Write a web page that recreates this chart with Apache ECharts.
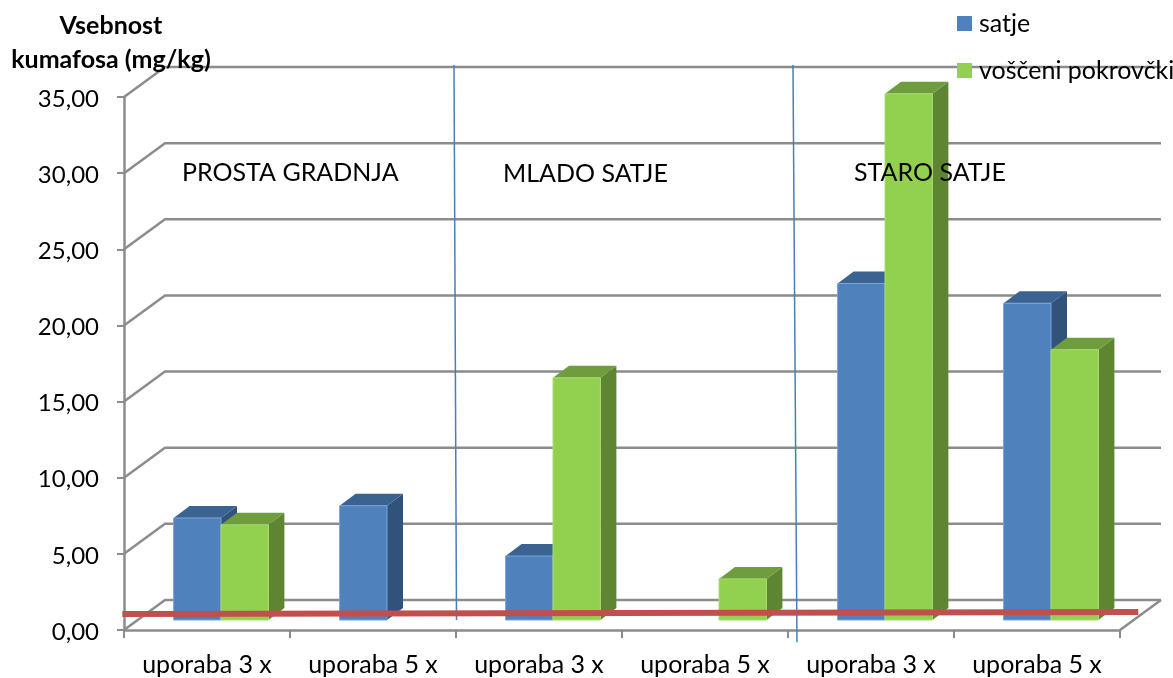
<!DOCTYPE html>
<html>
<head>
<meta charset="utf-8">
<title>Vsebnost kumafosa</title>
<style>
html, body { margin: 0; padding: 0; background: #fff; }
#main { width: 1173px; height: 678px; }
</style>
<script src="https://cdn.jsdelivr.net/npm/echarts@6/dist/echarts.min.js"></script>
</head>
<body>
<div id="main"></div>
<script>
var categories = ['uporaba 3 x', 'uporaba 5 x', 'uporaba 3 x', 'uporaba 5 x', 'uporaba 3 x', 'uporaba 5 x'];
var satje = [6.7, 7.5, 4.2, null, 22.1, 20.8];
var voskPokrovcki = [6.25, null, 15.9, 2.7, 34.55, 17.75];
var yTicks = [0, 5, 10, 15, 20, 25, 30, 35];
// rocno narisane crte v enotah osi: x = polozaj v skupinah, y = vrednost
var limitLine = [[-0.01, 1.05], [6.11, 1.18]];
var separatorOne = [[1.988, 37.1], [2.003, 0.65]];
var separatorTwo = [[4.03, 37.1], [4.054, -0.8]];

var font = 'Lato';
var grey = '#8c8c8c';
var wallDx = 41, wallDy = -30;
var barDx = 14, barDy = -10;
var topDx = 16, topDy = -12;

var myChart = echarts.init(document.getElementById('main'), null, { renderer: 'canvas' });

function pairData(values) {
    return values.map(function (v, i) { return [i, v]; });
}

function poly(points, fill, edge) {
    return { type: 'polygon', shape: { points: points }, style: { fill: fill, stroke: edge || null, lineWidth: 1 } };
}

function barItem(slot, face, top, side, edge) {
    return function (params, api) {
        var v = api.value(1);
        if (v === null || isNaN(v)) {
            return null;
        }
        var center = api.coord([api.value(0), 0]);
        var head = api.coord([api.value(0), v]);
        var band = api.size([1, 0])[0];
        var w = band * 0.2855;
        var x0 = center[0] + barDx + slot * w;
        var x1 = x0 + w;
        var y0 = center[1] + barDy;
        var y1 = head[1] + barDy;
        return {
            type: 'group',
            children: [
                poly([[x1, y0], [x1 + topDx, y0 + topDy], [x1 + topDx, y1 + topDy], [x1, y1]], side),
                poly([[x0, y1], [x1, y1], [x1 + topDx, y1 + topDy], [x0 + topDx, y1 + topDy]], top),
                poly([[x0, y0], [x1, y0], [x1, y1], [x0, y1]], face, edge)
            ]
        };
    };
}

function wallItem(params, api) {
    var y = api.coord([0, api.value(0)])[1];
    var left = params.coordSys.x;
    var right = left + params.coordSys.width + wallDx;
    return {
        type: 'polyline',
        shape: { points: [[left, y], [left + wallDx, y + wallDy], [right, y + wallDy]] },
        style: { fill: null, stroke: grey, lineWidth: 2.5 }
    };
}

function floorItem(params, api) {
    var y = api.coord([0, 0])[1];
    var x = params.coordSys.x + params.coordSys.width;
    return {
        type: 'line',
        shape: { x1: x, y1: y, x2: x + wallDx, y2: y + wallDy },
        style: { stroke: grey, lineWidth: 2.5 }
    };
}

function segmentItem(points, color, width) {
    return function (params, api) {
        var a = api.coord(points[0]);
        var b = api.coord(points[1]);
        return {
            type: 'line',
            shape: { x1: a[0], y1: a[1], x2: b[0], y2: b[1] },
            style: { stroke: color, lineWidth: width }
        };
    };
}

function overlaySeries(name, points, color, width, z) {
    return {
        name: name,
        type: 'custom',
        xAxisIndex: 1,
        yAxisIndex: 0,
        clip: false,
        silent: true,
        z: z,
        data: [points[0]],
        encode: { x: 0, y: 1 },
        renderItem: segmentItem(points, color, width)
    };
}

var option = {
    animation: false,
    backgroundColor: '#fff',
    textStyle: { fontFamily: font },
    title: {
        text: 'Vsebnost\nkumafosa (mg/kg)',
        left: 106,
        top: 4,
        textAlign: 'center',
        textStyle: { fontFamily: font, fontSize: 25, fontWeight: 'bold', color: '#000', lineHeight: 34 }
    },
    legend: {
        orient: 'vertical',
        left: 952,
        top: 6,
        z: 10,
        itemWidth: 15,
        itemHeight: 15,
        itemGap: 22,
        icon: 'rect',
        data: ['satje', 'voščeni pokrovčki'],
        textStyle: { fontFamily: font, fontSize: 25, color: '#000', padding: [0, 0, 0, 2] }
    },
    grid: { left: 124, right: 53, top: 97, bottom: 48 },
    xAxis: [
        {
            type: 'category',
            data: categories,
            boundaryGap: true,
            axisLine: { lineStyle: { color: grey, width: 2.5 } },
            axisTick: { show: true, alignWithLabel: false, interval: 0, length: 8, lineStyle: { color: grey, width: 2 } },
            axisLabel: { interval: 0, margin: 22, fontFamily: font, fontSize: 25, color: '#000' }
        },
        { type: 'value', min: 0, max: 6, show: false }
    ],
    yAxis: {
        type: 'value',
        min: 0,
        max: 35,
        interval: 5,
        axisLine: { show: true, lineStyle: { color: grey, width: 2.5 } },
        axisTick: { show: true, length: 7, lineStyle: { color: grey, width: 2 } },
        splitLine: { show: false },
        axisLabel: {
            margin: 25,
            color: '#000',
            rich: { n: { fontFamily: font, fontSize: 24, color: '#000', padding: [4, 0, 0, 0] } },
            formatter: function (v) { return '{n|' + v.toFixed(2).replace('.', ',') + '}'; }
        }
    },
    graphic: [
        { type: 'text', left: 182, top: 160, z: 20, style: { text: 'PROSTA GRADNJA', fontFamily: font, fontSize: 25, fill: '#000' } },
        { type: 'text', left: 503, top: 161, z: 20, style: { text: 'MLADO SATJE', fontFamily: font, fontSize: 25, fill: '#000' } },
        { type: 'text', left: 854, top: 160, z: 20, style: { text: 'STARO SATJE', fontFamily: font, fontSize: 25, fill: '#000' } }
    ],
    series: [
        {
            name: 'stene',
            type: 'custom',
            clip: false,
            silent: true,
            z: 1,
            data: yTicks,
            encode: { y: 0 },
            renderItem: wallItem
        },
        {
            name: 'tla',
            type: 'custom',
            clip: false,
            silent: true,
            z: 1,
            data: [0],
            encode: { y: 0 },
            renderItem: floorItem
        },
        {
            name: 'satje',
            type: 'custom',
            clip: false,
            z: 3,
            itemStyle: { color: '#4F81BD' },
            data: pairData(satje),
            encode: { x: 0, y: 1 },
            renderItem: barItem(-1, '#4F81BD', '#3A6391', '#30527B', '#7BA3D6')
        },
        {
            name: 'voščeni pokrovčki',
            type: 'custom',
            clip: false,
            z: 4,
            itemStyle: { color: '#92D050' },
            data: pairData(voskPokrovcki),
            encode: { x: 0, y: 1 },
            renderItem: barItem(0, '#92D050', '#6F9C3C', '#5E8531', '#A9DC70')
        },
        overlaySeries('meja', limitLine, '#C0504D', 6, 6),
        overlaySeries('loc1', separatorOne, '#4A7EBB', 1.5, 5),
        overlaySeries('loc2', separatorTwo, '#4A7EBB', 1.5, 5)
    ]
};
myChart.setOption(option);
</script>
</body>
</html>
